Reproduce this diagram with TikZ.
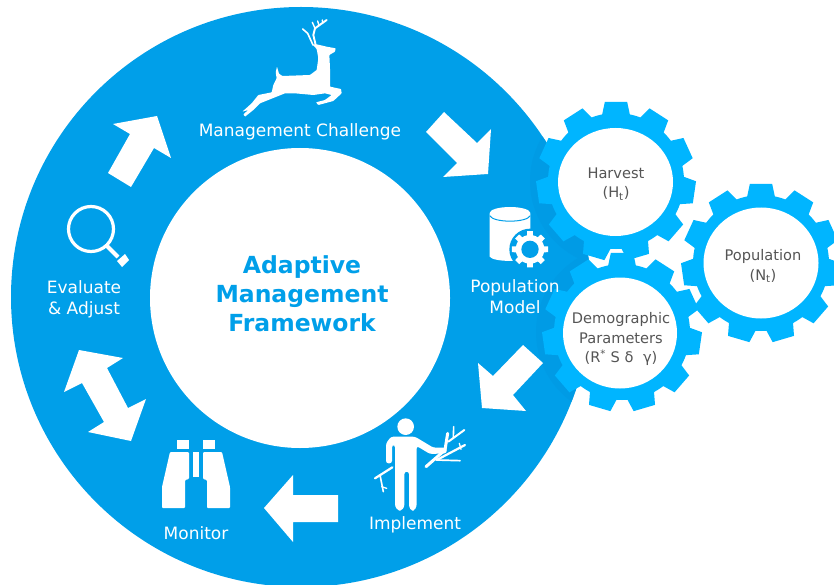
\documentclass[tikz,border=0pt]{standalone}
\usepackage{fontspec}
\usetikzlibrary{shapes.geometric}
\setmainfont{DejaVu Sans}
\definecolor{ringblue}{HTML}{009FE9}
\definecolor{ringdark}{HTML}{009BE5}
\definecolor{gearblue}{HTML}{00B5FF}
\definecolor{geartext}{HTML}{555555}
\tikzset{
  ringlabel/.style={text=white,font=\fontsize{17}{21}\selectfont,align=center,inner sep=0pt},
  gearlabel/.style={text=geartext,font=\fontsize{14.6}{19.5}\selectfont,align=center,inner sep=0pt},
  titlelabel/.style={text=ringblue,font=\bfseries\fontsize{23.5}{29}\selectfont,align=center,inner sep=0pt},
  geardisc/.style={ellipse,fill=white,inner sep=0pt},
  iconline/.style={draw=white,line cap=round,line join=round},
}
\newcommand{\gearshape}[3]{% x, y, colour
  \begin{scope}[shift={(#1,#2)}]
    \fill[#3] (0,0) circle[radius=68];
    \foreach \k in {0,...,10}{
      \pgfmathsetmacro{\ang}{-90+\k*360/11}
      \fill[#3] (\ang-12.5:66) -- (\ang-8:80) -- (\ang+8:80) -- (\ang+12.5:66) -- cycle;
    }
  \end{scope}}
\begin{document}
\begin{tikzpicture}[x=1pt,y=-1pt]
\useasboundingbox (0,0) rectangle (834,585);
\fill[white] (0,0) rectangle (834,585);
% main ring
\fill[ringblue] (301,297) circle[radius=290];
\begin{scope}
  \clip (301,297) circle[radius=290];
  \fill[ringdark] (616,181) circle[radius=86];
  \fill[ringdark] (622,332) circle[radius=86];
\end{scope}
\fill[white] (300,298) circle[radius=150];
% gears
\gearshape{616}{181}{gearblue}
\gearshape{761}{263}{gearblue}
\gearshape{622}{332}{gearblue}
\node[geardisc,minimum width=115pt,minimum height=108pt] (harvestdisc) at (615.5,182) {};
\node[geardisc,minimum width=115pt,minimum height=111pt] (populationdisc) at (761,263) {};
\node[geardisc,minimum width=114pt,minimum height=111pt] (demodisc) at (620,333) {};
\node[gearlabel] (harvest) at (616,184) {Harvest\\(H\textsubscript{t})};
\node[gearlabel] (population) at (763,266) {Population\\(N\textsubscript{t})};
\node[gearlabel] (demo) at (621,339) {Demographic\\Parameters\\(R\textsuperscript{*} S δ\, \,γ)};
% ring arrows
\fill[white] (444,112) -- (477,143) -- (491,129) -- (488,174) -- (443,177) -- (457,163) -- (426,132) -- cycle;
\fill[white] (523,345) -- (543,363) -- (513,395) -- (526,411) -- (482,408) -- (478,363) -- (493,376) -- cycle;
\fill[white] (264,508) -- (293,475) -- (293,495) -- (338,495) -- (338,522) -- (293,522) -- (293,542) -- cycle;
\fill[white] (79,350) -- (123,358) -- (107,368) -- (128,408) -- (146,399) -- (131,441) -- (88,432) -- (104,422) -- (82,383) -- (64,392) -- cycle;
\fill[white] (157,116) -- (171,158) -- (154,148) -- (131,187) -- (108,173) -- (130,134) -- (113,124) -- cycle;
% ring labels
\node[ringlabel] (challenge) at (300,132) {Management Challenge};
\node[ringlabel] (model) at (515,297) {Population\\Model};
\node[ringlabel] (implement) at (415,525) {Implement};
\node[ringlabel] (monitor) at (196,533) {Monitor};
\node[ringlabel] (evaluate) at (84,299) {Evaluate\\\& Adjust};
\node[titlelabel] (title) at (302,294) {Adaptive\\Management\\Framework};
% deer
\begin{scope}[shift={(235,15)},scale=1/3]
  \fill[white,rounded corners=0.6pt] (122,172) -- (126,155) -- (132,176) -- (142,183) -- (225,180) -- (245,165) -- (250,130) -- (245,102) -- (232,88) -- (245,88) -- (275,95) -- (302,100) -- (300,110) -- (283,120) -- (285,160) -- (285,215) -- (318,222) -- (320,235) -- (295,258) -- (250,270) -- (243,262) -- (270,255) -- (290,240) -- (270,235) -- (235,240) -- (180,235) -- (150,235) -- (100,255) -- (75,265) -- (55,285) -- (30,305) -- (25,298) -- (40,285) -- (22,290) -- (50,265) -- (70,240) -- (110,232) -- (115,210) -- (125,190) -- cycle;
  \draw[iconline,line width=1.6pt] (234,90) -- (218,55) -- (203,42);
  \draw[iconline,line width=1.9pt] (242,90) -- (235,60) -- (240,40) -- (275,15);
  \draw[iconline,line width=1.4pt] (240,40) -- (232,22);
  \draw[iconline,line width=1.4pt] (252,32) -- (248,18);
  \draw[iconline,line width=1.4pt] (263,24) -- (262,15);
\end{scope}
% database and small gear
\begin{scope}[shift={(480,195)},scale=1/3]
  \fill[white] (29,55) -- (29,185) .. controls (40,202) and (140,202) .. (151,185) -- (151,55) -- cycle;
  \fill[white] (90,54) ellipse[x radius=61,y radius=18];
  \draw[ringblue,line width=1pt] (29,62) .. controls (40,84) and (140,84) .. (151,62);
  \begin{scope}[shift={(150,163)}]
    \fill[ringblue] (0,0) circle[radius=62];
    \fill[white] (0,0) circle[radius=43];
    \foreach \k in {0,...,7}{
      \pgfmathsetmacro{\ang}{-90+\k*45}
      \fill[white] (\ang-13:40) -- (\ang-9:55) -- (\ang+9:55) -- (\ang+13:40) -- cycle;
    }
    \fill[ringblue] (0,0) circle[radius=26];
  \end{scope}
\end{scope}
% person with branches
\begin{scope}[shift={(365,410)},scale=1/3]
  \fill[white] (122,50) circle[radius=25];
  \fill[white,rounded corners=2.5pt] (63,160) -- (63,100) -- (78,80) -- (150,80) -- (205,113) -- (245,113) -- (245,130) -- (195,132) -- (155,108) -- (155,290) -- (147,302) -- (140,302) -- (132,292) -- (132,185) -- (118,185) -- (118,292) -- (108,302) -- (100,302) -- (90,290) -- (90,105) -- (81,105) -- (81,160) -- cycle;
  \draw[iconline,line width=3pt] (183,170) -- (240,120) -- (248,70);
  \draw[iconline,line width=2pt] (250,95) -- (298,60);
  \draw[iconline,line width=1.6pt] (265,82) -- (266,50);
  \draw[iconline,line width=2.2pt] (215,150) -- (300,105);
  \draw[iconline,line width=1.7pt] (215,150) -- (285,152);
  \draw[iconline,line width=1.3pt] (283,100) -- (288,118);
  \draw[iconline,line width=2.2pt] (82,172) -- (30,205);
  \draw[iconline,line width=1.6pt] (45,195) -- (55,245);
  \draw[iconline,line width=1.3pt] (50,230) -- (65,235);
\end{scope}
% binoculars
\fill[white] (177,440) rectangle (189,449);
\fill[white] (203,440) rectangle (215,449);
\fill[white] (193,452) rectangle (199,477);
\fill[white,rounded corners=1pt] (170,452) -- (189,452) -- (189,479) -- (185,480) -- (185,508) -- (162,508) -- (162,487) -- cycle;
\fill[white,rounded corners=1pt] (222,452) -- (203,452) -- (203,479) -- (207,480) -- (207,508) -- (230,508) -- (230,487) -- cycle;
% magnifier
\draw[white,line width=3.2pt] (91,229) circle[radius=22.5];
\draw[white,line width=4pt] (106,245) -- (118,257);
\fill[white] (117,261) -- (125,254) -- (129,260) -- (122,267) -- cycle;
\end{tikzpicture}
\end{document}
